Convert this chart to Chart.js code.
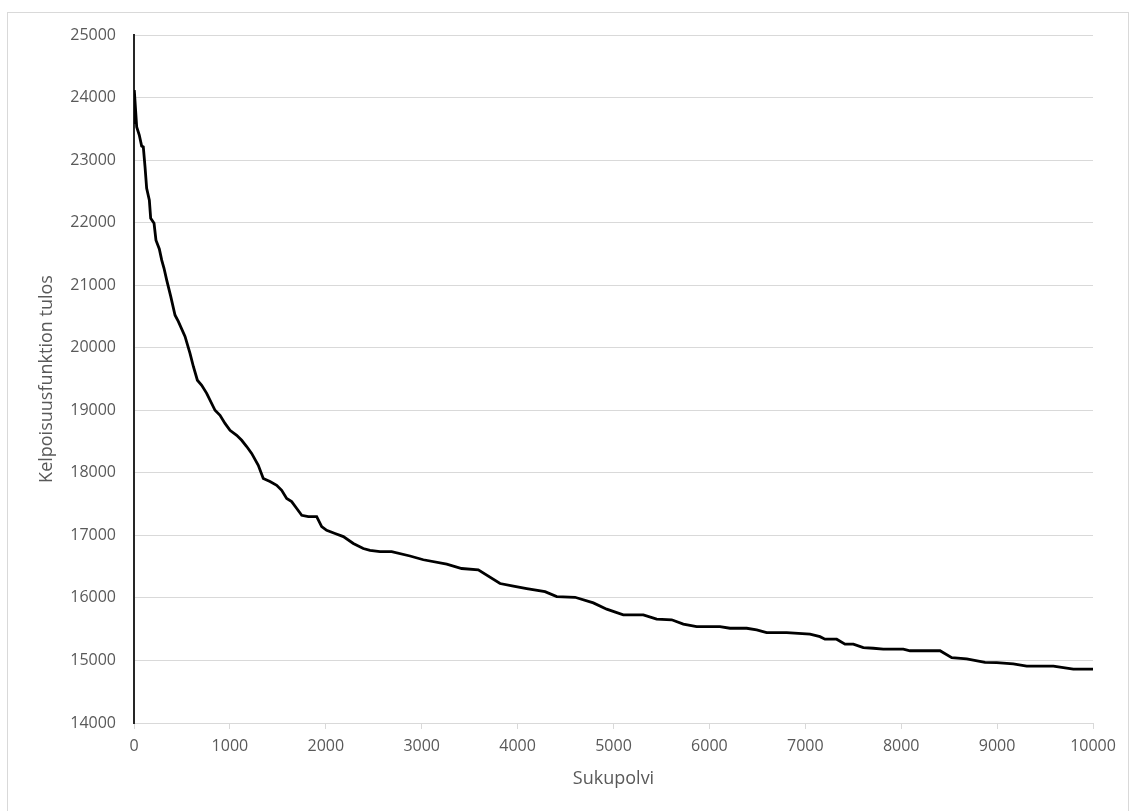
<!DOCTYPE html>
<html>
<head>
<meta charset="utf-8">
<script src="https://cdn.jsdelivr.net/npm/chart.js@4/dist/chart.umd.min.js"></script>
<style>
  html, body { margin: 0; padding: 0; background: #fff; }
  body { width: 1131px; height: 811px; position: relative; overflow: hidden; }
  .frame { position: absolute; left: 7px; top: 12px; width: 1122px; height: 810px; border: 1px solid #d9d9d9; box-sizing: border-box; }
  #myChart { position: absolute; left: 0; top: 0; }
</style>
</head>
<body>
<div class="frame"></div>
<canvas id="myChart" width="1131" height="811"></canvas>
<script>
// sukupolvi (x) ja kelpoisuusfunktion tulos (y)
const generations = [0, 3, 28, 55, 80, 97, 115, 132, 160, 174, 209, 229, 264, 289, 313, 341, 383, 428, 462, 532,
  584, 619, 661, 706, 758, 845, 897, 949, 1001, 1071, 1123, 1175, 1227, 1296, 1348, 1418, 1488, 1540, 1592, 1644,
  1697, 1749, 1818, 1905, 1957, 2009, 2096, 2183, 2287, 2391, 2461, 2565, 2687, 2878, 3017, 3261, 3417, 3590, 3817, 3956,
  4095, 4286, 4408, 4599, 4790, 4929, 5102, 5311, 5450, 5607, 5728, 5867, 6110, 6215, 6389, 6493, 6597, 6806, 7049, 7153,
  7205, 7327, 7414, 7501, 7605, 7709, 7813, 8022, 8092, 8405, 8527, 8683, 8874, 8996, 9169, 9309, 9587, 9795, 10000];
const fitness = [23600, 24120, 23530, 23400, 23225, 23210, 22890, 22550, 22360, 22070, 21990, 21720, 21580, 21400, 21270, 21080, 20820, 20520, 20420, 20180,
  19910, 19700, 19480, 19400, 19270, 19000, 18920, 18790, 18680, 18600, 18520, 18420, 18310, 18120, 17910, 17860, 17800, 17720, 17590, 17540,
  17430, 17320, 17300, 17300, 17140, 17080, 17030, 16980, 16870, 16790, 16760, 16740, 16740, 16670, 16610, 16540, 16470, 16450, 16230, 16190,
  16150, 16100, 16020, 16010, 15920, 15820, 15730, 15730, 15660, 15650, 15580, 15540, 15540, 15515, 15515, 15490, 15445, 15445, 15420, 15380,
  15340, 15340, 15260, 15260, 15205, 15195, 15180, 15180, 15155, 15155, 15045, 15025, 14970, 14965, 14945, 14910, 14910, 14860, 14860];

const xTicks = [0, 1000, 2000, 3000, 4000, 5000, 6000, 7000, 8000, 9000, 10000];
const yTicks = [14000, 15000, 16000, 17000, 18000, 19000, 20000, 21000, 22000, 23000, 24000, 25000];

const points = generations.map((g, i) => ({ x: g, y: fitness[i] }));

const textColor = "#595959";
const gridColor = "#d9d9d9";
const tickFont = { family: "'Open Sans', sans-serif", size: 16 };
const titleFont = { family: "'Open Sans', sans-serif", size: 18 };

const ctx = document.getElementById("myChart");

new Chart(ctx, {
  type: "scatter",
  data: {
    datasets: [
      {
        data: points,
        showLine: true,
        borderColor: "#000",
        borderWidth: 2.8,
        pointRadius: 0,
        tension: 0,
      },
    ],
  },
  options: {
    responsive: false,
    animation: false,
    layout: { padding: { left: 34, right: 38, top: 35, bottom: 0 } },
    plugins: { legend: { display: false }, tooltip: { enabled: false } },
    scales: {
      x: {
        type: "linear",
        min: xTicks[0],
        max: xTicks[xTicks.length - 1],
        afterBuildTicks: (scale) => {
          scale.ticks = xTicks.map((v) => ({ value: v }));
        },
        afterFit: (scale) => {
          scale.height = 88;
        },
        grid: { drawOnChartArea: false, drawTicks: true, tickLength: 6, color: gridColor },
        border: { color: gridColor, width: 1 },
        ticks: { color: textColor, font: tickFont, padding: 8, maxRotation: 0, callback: (v) => String(v) },
        title: { display: true, text: "Sukupolvi", color: textColor, font: titleFont, padding: { top: 4, bottom: 21 } },
      },
      y: {
        min: yTicks[0],
        max: yTicks[yTicks.length - 1],
        afterBuildTicks: (scale) => {
          scale.ticks = yTicks.map((v) => ({ value: v }));
        },
        afterFit: (scale) => {
          scale.width = 100;
        },
        grid: { drawTicks: false, color: gridColor },
        border: { color: "#262626", width: 2 },
        ticks: { color: textColor, font: tickFont, padding: 18, callback: (v) => String(v) },
        title: { display: true, text: "Kelpoisuusfunktion tulos", color: textColor, font: titleFont, padding: { top: 2, bottom: 4 } },
      },
    },
  },
});
</script>
</body>
</html>
